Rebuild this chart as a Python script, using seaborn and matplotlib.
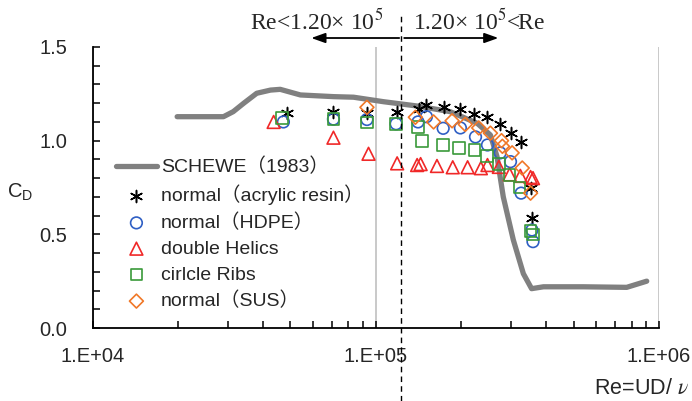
import numpy as np
import pandas as pd
import matplotlib
matplotlib.use("Agg")
import matplotlib.pyplot as plt
import matplotlib.ticker as mticker
import seaborn as sns

# --------------------------
# DATA
# --------------------------
schewe_re = [1.99e4, 2.9e4, 3.14e4, 3.42e4, 3.80e4, 4.25e4, 4.60e4, 5.42e4, 7.1e4, 8.35e4,
             1.065e5, 1.40e5, 1.83e5, 2.28e5, 2.54e5, 2.68e5, 2.82e5, 3.06e5, 3.32e5,
             3.55e5, 3.91e5, 5.41e5, 7.69e5, 9.05e5]
schewe_cd = [1.128, 1.128, 1.155, 1.20, 1.253, 1.27, 1.274, 1.244, 1.235, 1.232,
             1.208, 1.185, 1.155, 1.093, 1.03, 0.915, 0.70, 0.47, 0.29,
             0.21, 0.22, 0.22, 0.217, 0.25]

acrylic_re = [4.86e4, 7.09e4, 9.31e4, 1.19e5, 1.42e5, 1.50e5, 1.74e5, 1.99e5, 2.23e5,
              2.48e5, 2.74e5, 3.00e5, 3.26e5, 3.52e5, 3.56e5]
acrylic_cd = [1.146, 1.155, 1.146, 1.155, 1.167, 1.19, 1.178, 1.170, 1.143,
              1.125, 1.090, 1.042, 0.994, 0.746, 0.586]

hdpe_re = [4.72e4, 7.09e4, 9.31e4, 1.18e5, 1.41e5, 1.51e5, 1.73e5, 1.99e5, 2.25e5,
           2.48e5, 2.75e5, 2.99e5, 3.26e5, 3.56e5, 3.59e5]
hdpe_cd = [1.10, 1.115, 1.113, 1.09, 1.10, 1.128, 1.066, 1.068, 1.02,
           0.977, 0.935, 0.888, 0.72, 0.523, 0.461]

helics_re = [4.36e4, 7.09e4, 9.43e4, 1.19e5, 1.40e5, 1.44e5, 1.645e5, 1.87e5, 2.11e5,
             2.35e5, 2.48e5, 2.72e5, 2.97e5, 3.24e5, 3.52e5, 3.59e5]
helics_cd = [1.10, 1.016, 0.93, 0.879, 0.87, 0.875, 0.865, 0.858, 0.858,
             0.853, 0.87, 0.86, 0.82, 0.812, 0.806, 0.80]

ribs_re = [4.66e4, 7.09e4, 9.31e4, 1.18e5, 1.41e5, 1.456e5, 1.73e5, 1.97e5, 2.23e5,
           2.47e5, 2.72e5, 2.97e5, 3.22e5, 3.52e5, 3.59e5]
ribs_cd = [1.12, 1.115, 1.097, 1.088, 1.072, 0.997, 0.977, 0.96, 0.95,
           0.917, 0.875, 0.817, 0.75, 0.518, 0.50]

sus_re = [9.31e4, 1.38e5, 1.60e5, 1.86e5, 2.07e5, 2.31e5, 2.54e5, 2.78e5, 2.80e5,
          3.03e5, 3.29e5, 3.52e5]
sus_cd = [1.178, 1.125, 1.10, 1.106, 1.087, 1.068, 1.04, 1.00, 0.97,
          0.935, 0.854, 0.72]

re_split = 1.23e5
x_ticks = [1e4, 1e5, 1e6]
x_tick_labels = ["1.E+04", "1.E+05", "1.E+06"]

# --------------------------
# STYLE
# --------------------------
sns.set_theme(style="white")
plt.rcParams['font.family'] = ['Liberation Sans', 'Noto Sans CJK JP', 'DejaVu Sans']
plt.rcParams['mathtext.fontset'] = 'stix'

fig = plt.figure(figsize=(6.92, 4.01), dpi=100)
ax = fig.add_axes([92.5 / 692, 1 - 328 / 401, (659 - 92.5) / 692, (328 - 47) / 401])

sns.lineplot(x=schewe_re, y=schewe_cd, ax=ax, color="#808080", linewidth=3.8,
             label="SCHEWE（1983）", sort=False, zorder=2)

sns.scatterplot(x=acrylic_re, y=acrylic_cd, ax=ax, marker=(6, 2, 0), s=75,
                color="black", linewidth=1.1, label="normal（acrylic resin）", zorder=3)
sns.scatterplot(x=hdpe_re, y=hdpe_cd, ax=ax, marker="o", s=70, facecolor="none",
                edgecolor="#2f5fc4", linewidth=1.2, label="normal（HDPE）", zorder=3)
sns.scatterplot(x=helics_re, y=helics_cd, ax=ax, marker="^", s=85, facecolor="none",
                edgecolor="#f02828", linewidth=1.2, label="double Helics", zorder=3)
sns.scatterplot(x=ribs_re, y=ribs_cd, ax=ax, marker="s", s=70, facecolor="none",
                edgecolor="#3a9a3a", linewidth=1.2, label="cirlcle Ribs", zorder=3)
sns.scatterplot(x=sus_re, y=sus_cd, ax=ax, marker="D", s=50, facecolor="none",
                edgecolor="#f07828", linewidth=1.2, label="normal（SUS）", zorder=4)

ax.set_xscale("log")
ax.set_xlim(1e4, 1e6)
ax.set_ylim(0, 1.5)

ax.set_xticks(x_ticks)
ax.set_xticklabels(x_tick_labels)
ax.xaxis.set_minor_locator(mticker.LogLocator(base=10, subs=np.arange(2, 10)))
ax.xaxis.set_minor_formatter(mticker.NullFormatter())
ax.yaxis.set_major_locator(mticker.MultipleLocator(0.5))
ax.yaxis.set_minor_locator(mticker.MultipleLocator(0.1))
ax.yaxis.set_major_formatter(mticker.FormatStrFormatter("%.1f"))

ax.tick_params(which="both", direction="in", length=5, width=1.1, color="black",
               left=True, bottom=True)
ax.tick_params(axis="x", which="major", labelsize=14.5, pad=14)
ax.tick_params(axis="y", which="major", labelsize=14.5, pad=18)

for side in ["top", "right"]:
    ax.spines[side].set_visible(False)
for side in ["left", "bottom"]:
    ax.spines[side].set_color("black")
    ax.spines[side].set_linewidth(1.3)

ax.xaxis.grid(True, which="major", color="#c0c0c0", linewidth=1.2)
ax.yaxis.grid(False)

# dashed split line, running past the axes
ax.axvline(re_split, ymin=-0.26, ymax=1.115, color="black", linestyle=(0, (4, 3)),
           linewidth=1.0, clip_on=False, zorder=5)

# arrows and region labels
arrow_y = 1.548
ax.annotate("", xy=(5.92e4, arrow_y), xytext=(1.21e5, arrow_y), xycoords="data",
            annotation_clip=False,
            arrowprops=dict(arrowstyle="-|>,head_length=0.7,head_width=0.25",
                            color="black", lw=1.3, shrinkA=0, shrinkB=0))
ax.annotate("", xy=(2.71e5, arrow_y), xytext=(1.26e5, arrow_y), xycoords="data",
            annotation_clip=False,
            arrowprops=dict(arrowstyle="-|>,head_length=0.7,head_width=0.25",
                            color="black", lw=1.3, shrinkA=0, shrinkB=0))
ax.text(6.21e4, 1.636, "Re<1.20× 10$^{5}$", family="Liberation Serif", fontsize=17,
        ha="center", va="center", clip_on=False)
ax.text(2.31e5, 1.636, "1.20× 10$^{5}$<Re", family="Liberation Serif", fontsize=17,
        ha="center", va="center", clip_on=False)

ax.set_xlabel("")
ax.set_ylabel("")
fig.text(641 / 692, 1 - 389 / 401, r"Re=UD/ $\nu$", fontsize=15.5, ha="center", va="center")
fig.text(20 / 692, 1 - 192 / 401, r"$\mathregular{C_D}$", fontsize=14.5, ha="center", va="center")

ax.legend(loc="upper left", bbox_to_anchor=(116 / 692, 1 - 158 / 401),
          bbox_transform=fig.transFigure, frameon=False, borderpad=0, borderaxespad=0,
          handlelength=2.1, handletextpad=0.2, labelspacing=0.42, fontsize=14,
          scatterpoints=1)

fig.savefig("out.png", dpi=100)
